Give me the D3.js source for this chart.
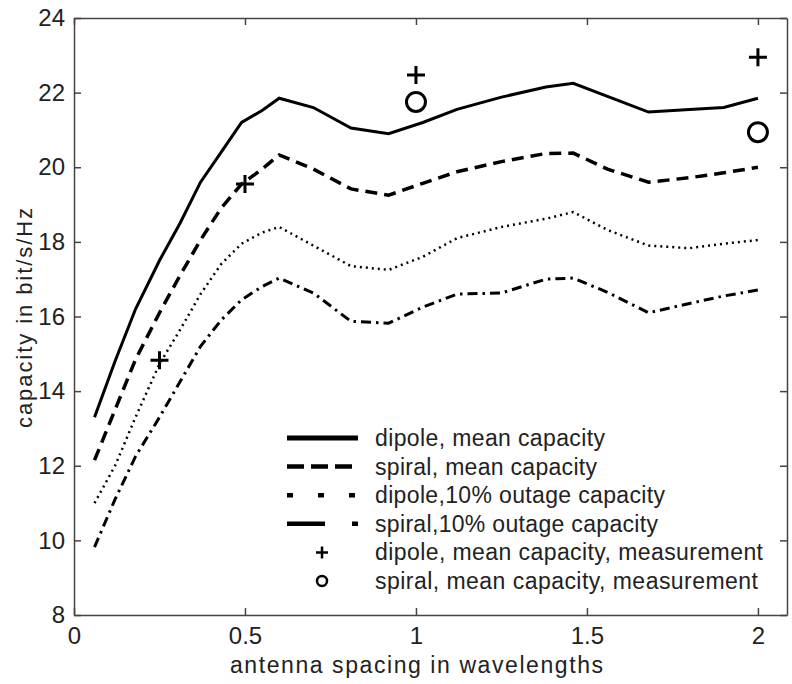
<!DOCTYPE html>
<html>
<head>
<meta charset="utf-8">
<script src="https://cdn.jsdelivr.net/npm/d3@7"></script>
<style>
  body { margin: 0; background: white; }
  text { font-family: "Liberation Sans", Arial, Helvetica, sans-serif; fill: #222; }
</style>
</head>
<body>
<div id="chart"></div>
<script>
// antenna spacing (wavelengths) at which the curves are drawn
const spacing = [0.06, 0.12, 0.18, 0.25, 0.31, 0.37, 0.43, 0.49, 0.55, 0.6, 0.7, 0.81,
                 0.92, 1.02, 1.12, 1.25, 1.38, 1.46, 1.56, 1.68, 1.8, 1.9, 2.0];

// capacity in bit/s/Hz
const dipoleMean = [13.3, 14.8, 16.2, 17.5, 18.5, 19.6, 20.4, 21.2, 21.52, 21.85, 21.6, 21.05,
                    20.9, 21.2, 21.55, 21.88, 22.15, 22.25, 21.9, 21.48, 21.55, 21.6, 21.85];
const spiralMean = [12.15, 13.5, 14.85, 16.1, 17.1, 18.05, 18.9, 19.55, 19.95, 20.33, 19.95, 19.42,
                    19.25, 19.57, 19.88, 20.15, 20.37, 20.38, 19.95, 19.6, 19.72, 19.85, 20.0];
const dipoleOutage = [11.0, 12.0, 13.3, 14.73, 15.64, 16.6, 17.4, 17.95, 18.25, 18.4, 17.9, 17.35,
                      17.25, 17.6, 18.1, 18.4, 18.62, 18.8, 18.32, 17.9, 17.83, 17.95, 18.05];
const spiralOutage = [9.82, 11.1, 12.25, 13.3, 14.25, 15.2, 15.9, 16.45, 16.8, 17.03, 16.63, 15.87,
                      15.82, 16.25, 16.6, 16.63, 17.0, 17.03, 16.65, 16.1, 16.35, 16.55, 16.71];

// measurements
const dipoleMeasX = [0.25, 0.5, 1.0, 2.0];
const dipoleMeasY = [14.83, 19.55, 22.47, 22.95];
const spiralMeasX = [1.0, 2.0];
const spiralMeasY = [21.75, 20.94];

const xTicks = [0, 0.5, 1, 1.5, 2];
const yTicks = [8, 10, 12, 14, 16, 18, 20, 22, 24];

const legendLabels = [
  "dipole, mean capacity",
  "spiral, mean capacity",
  "dipole,10% outage capacity",
  "spiral,10% outage capacity",
  "dipole, mean capacity, measurement",
  "spiral, mean capacity, measurement"
];
// width of each legend label as printed in the figure
const legendWidths = [230, 222, 290, 283, 388, 383];

let width = 792, height = 684;
let margin = { top: 18, bottom: 69, right: 5, left: 74 };

let svg = d3.select('#chart')
            .append('svg')
            .attr('width', width)
            .attr('height', height)
            .style('background', 'white');

let xScale = d3.scaleLinear()
               .domain([0, 2.085])
               .range([margin.left, width - margin.right]);
let yScale = d3.scaleLinear()
               .domain([8, 24])
               .range([height - margin.bottom, margin.top]);

// axes, ticks pointing inward (matlab style)
let xAxis = svg.append('g')
  .attr('transform', `translate(0,${height - margin.bottom})`)
  .call(d3.axisBottom(xScale).tickValues(xTicks).tickFormat(d3.format('')).tickSize(-7).tickSizeOuter(0).tickPadding(12));
let yAxis = svg.append('g')
  .attr('transform', `translate(${margin.left},0)`)
  .call(d3.axisLeft(yScale).tickValues(yTicks).tickSize(-7).tickSizeOuter(0).tickPadding(9));
svg.append('g')
  .attr('transform', `translate(0,${margin.top})`)
  .call(d3.axisTop(xScale).tickValues(xTicks).tickFormat('').tickSize(-7).tickSizeOuter(0));
svg.append('g')
  .attr('transform', `translate(${width - margin.right},0)`)
  .call(d3.axisRight(yScale).tickValues(yTicks).tickFormat('').tickSize(-7).tickSizeOuter(0));

svg.selectAll('.domain, .tick line').attr('stroke', '#444').attr('stroke-width', 1.5);
svg.selectAll('.tick text').style('font-size', '24px').attr('fill', '#222');

// axis titles
svg.append('text')
   .attr('x', 230)
   .attr('y', 673)
   .attr('textLength', 373)
   .attr('lengthAdjust', 'spacing')
   .style('font-size', '23px')
   .text('antenna spacing in wavelengths');

svg.append('text')
   .attr('transform', 'translate(32,428) rotate(-90)')
   .attr('textLength', 220)
   .attr('lengthAdjust', 'spacing')
   .style('font-size', '22px')
   .text('capacity in bit/s/Hz');

// curves
const series = [
  { values: dipoleMean, width: 3, dash: null },
  { values: spiralMean, width: 3.5, dash: '12,7' },
  { values: dipoleOutage, width: 2.5, dash: '2,4' },
  { values: spiralOutage, width: 3, dash: '10,5,2.5,5' }
];

let line = d3.line()
  .x(d => xScale(d[0]))
  .y(d => yScale(d[1]));

series.forEach(s => {
  svg.append('path')
     .datum(spacing.map((x, i) => [x, s.values[i]]))
     .attr('fill', 'none')
     .attr('stroke', 'black')
     .attr('stroke-width', s.width)
     .attr('stroke-dasharray', s.dash)
     .attr('d', line);
});

// measurement markers
dipoleMeasX.forEach((x, i) => {
  let cx = xScale(x), cy = yScale(dipoleMeasY[i]);
  svg.append('path')
     .attr('d', `M${cx - 9},${cy}H${cx + 9}M${cx},${cy - 9}V${cy + 9}`)
     .attr('stroke', 'black')
     .attr('stroke-width', 3);
});
spiralMeasX.forEach((x, i) => {
  svg.append('circle')
     .attr('cx', xScale(x))
     .attr('cy', yScale(spiralMeasY[i]))
     .attr('r', 9.5)
     .attr('fill', 'none')
     .attr('stroke', 'black')
     .attr('stroke-width', 3);
});

// legend
const legend = svg.append('g').attr('transform', 'translate(287,438)');
const legendDash = [null, '17,7', '6,25', '38,27,6,40'];

legendLabels.forEach((label, i) => {
  let y = i * 28.6;
  if (i < 4) {
    legend.append('line')
      .attr('x1', 0).attr('x2', 71)
      .attr('y1', y).attr('y2', y)
      .attr('stroke', 'black')
      .attr('stroke-width', i == 0 ? 5 : 4.5)
      .attr('stroke-dasharray', legendDash[i]);
  } else if (i == 4) {
    legend.append('path')
      .attr('d', `M29,${y}H41M35,${y - 6}V${y + 6}`)
      .attr('stroke', 'black')
      .attr('stroke-width', 2.5);
  } else {
    legend.append('circle')
      .attr('cx', 35).attr('cy', y).attr('r', 5)
      .attr('fill', 'none')
      .attr('stroke', 'black')
      .attr('stroke-width', 2.5);
  }
  legend.append('text')
    .attr('x', 88)
    .attr('y', y)
    .attr('dy', '0.35em')
    .attr('textLength', legendWidths[i])
    .attr('lengthAdjust', 'spacing')
    .style('font-size', '23px')
    .text(label);
});
</script>
</body>
</html>
